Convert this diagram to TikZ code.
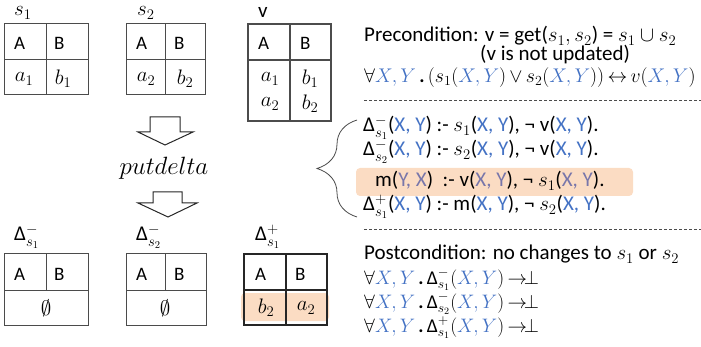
\RequirePackage{fix-cm}
\documentclass[tikz,border=0pt]{standalone}
\usepackage[no-math]{fontspec}
\setmainfont{Carlito}
\usepackage{amsmath,amssymb}
\usetikzlibrary{decorations.pathreplacing}
\definecolor{xyblue}{RGB}{68,114,196}
\definecolor{xymute}{RGB}{120,118,170}
\definecolor{hlorange}{RGB}{251,220,195}
\definecolor{tabgray}{RGB}{75,75,75}
\newcommand{\xy}[1]{\textcolor{xyblue}{#1}}
\newcommand{\xm}[1]{\textcolor{xymute}{#1}}

\tikzset{
  txt/.style={inner sep=0pt, anchor=base west, font=\fontsize{21}{25}\selectfont},
  cell/.style={inner sep=0pt, anchor=base west, font=\fontsize{19}{22}\selectfont},
  val/.style={inner sep=0pt, font=\fontsize{21}{25}\selectfont},
  tabthin/.style={draw=tabgray, line width=1pt},
  tabthick/.style={draw=black!85, line width=1.6pt},
  blockarrow/.style={draw=black!85, line width=1pt, line join=miter, fill=white},
  sep/.style={dashed, black!70, line width=0.6pt, dash pattern=on 3pt off 2pt}
}

\begin{document}
\begin{tikzpicture}[x=1pt, y=-1pt]
    \useasboundingbox (0,0) rectangle (701,347);

    % Source tables (top row)
    \node[txt] (ls1) at (14,16) {$s_1$};
    \node[txt] (ls2) at (137,16) {$s_2$};
    \node[txt] (lv) at (258,18) {v};
    \draw[tabthin] (4,24) rectangle (88,95) (4,60) -- (88,60) (46,24) -- (46,95);
    \draw[tabthin] (126,24) rectangle (205,95) (126,60) -- (205,60) (165,24) -- (165,95);
    \draw[tabthick, black!70] (248,24) rectangle (331,121) (248,60) -- (331,60) (290,24) -- (290,121);
    \node[cell] (s1A) at (14,50) {A};
    \node[cell] (s1B) at (54,50) {B};
    \node[val] (s1a) at (24,79) {$a_1$};
    \node[val] (s1b) at (63,79) {$b_1$};
    \node[cell] (s2A) at (136,50) {A};
    \node[cell] (s2B) at (174,50) {B};
    \node[val] (s2a) at (146,79) {$a_2$};
    \node[val] (s2b) at (185,79) {$b_2$};
    \node[cell] (vA) at (258,50) {A};
    \node[cell] (vB) at (300,50) {B};
    \node[val] (va1) at (270,79) {$a_1$};
    \node[val] (vb1) at (310,79) {$b_1$};
    \node[val] (va2) at (270,104) {$a_2$};
    \node[val] (vb2) at (310,104) {$b_2$};

    % putdelta step
    \draw[blockarrow] (150,117) -- (180,117) -- (180,132) -- (193,132) -- (165,145)
        -- (138,132) -- (150,132) -- cycle;
    \node[val, font=\fontsize{25}{28}\selectfont] (pd) at (164,168) {$putdelta$};
    \draw[blockarrow] (153,192) -- (182,192) -- (182,203) -- (197,203) -- (168,217)
        -- (138,203) -- (153,203) -- cycle;

    % Delta tables (bottom row)
    \node[txt] (ld1) at (14,241) {Δ$^{-}_{s_1}$};
    \node[txt] (ld2) at (136,241) {Δ$^{-}_{s_2}$};
    \node[txt] (ld3) at (255,241) {Δ$^{+}_{s_1}$};
    \fill[hlorange, rounded corners=4pt] (241,293) rectangle (329,321);
    \draw[tabthin] (4,254) rectangle (88,325) (4,290) -- (88,290) (46,254) -- (46,290);
    \draw[tabthin] (126,254) rectangle (206,325) (126,290) -- (206,290) (165,254) -- (165,290);
    \draw[tabthick] (244,254) rectangle (327,325) (244,290) -- (327,290) (286,254) -- (286,325);
    \node[cell] (d1A) at (14,280) {A};
    \node[cell] (d1B) at (54,280) {B};
    \node[val] (d1e) at (46,308) {$\emptyset$};
    \node[cell] (d2A) at (136,280) {A};
    \node[cell] (d2B) at (174,280) {B};
    \node[val] (d2e) at (165,308) {$\emptyset$};
    \node[cell] (d3A) at (255,280) {A};
    \node[cell] (d3B) at (295,280) {B};
    \node[val] (d3b) at (266,308) {$b_2$};
    \node[val] (d3a) at (306,308) {$a_2$};

    % Precondition
    \node[txt] (pre) at (364,42) {Precondition: v = get($s_1, s_2$) = $s_1 \cup s_2$};
    \node[txt] (upd) at (480,61) {(v is not updated)};
    \node[txt, font=\fontsize{19.8}{23}\selectfont] (prefml) at (364,83)
        {$\forall \xy{X,Y}\,\textbf{.}\,(s_1(\xy{X,Y})\,{\lor}\,s_2(\xy{X,Y}))\,{\leftrightarrow}\,v(\xy{X,Y})$};
    \draw[sep] (364,100) -- (701,100);

    % Rules of putdelta
    \fill[hlorange, rounded corners=4pt] (356,168) rectangle (633,196);
    \node[txt] (r1) at (363,132) {Δ$^{-}_{s_1}$(\xy{X, Y}) :- $s_1$(\xy{X, Y}), ¬ v(\xy{X, Y}).};
    \node[txt] (r2) at (363,156) {Δ$^{-}_{s_2}$(\xy{X, Y}) :- $s_2$(\xy{X, Y}), ¬ v(\xy{X, Y}).};
    \node[txt] (r3) at (375,187) {m(\xm{Y, X})\ \ :- v(\xm{X, Y}), ¬ $s_1$(\xm{X, Y}).};
    \node[txt] (r4) at (363,211) {Δ$^{+}_{s_1}$(\xy{X, Y}) :- m(\xy{X, Y}), ¬ $s_2$(\xy{X, Y}).};
    \draw[decorate, decoration={brace, amplitude=40pt}, black!70, line width=0.8pt]
        (357,217) -- (357,120);
    \draw[sep] (364,229) -- (701,229);

    % Postcondition
    \node[txt] (post) at (364,260) {Postcondition: no changes to $s_1$ or $s_2$};
    \node[txt, font=\fontsize{19.5}{24}\selectfont] (q1) at (364,284) {$\forall \xy{X,Y}\,\textbf{.}\,$Δ$^{-}_{s_1}$$(\xy{X,Y})\,{\rightarrow}\!\bot$};
    \node[txt, font=\fontsize{19.5}{24}\selectfont] (q2) at (364,308) {$\forall \xy{X,Y}\,\textbf{.}\,$Δ$^{-}_{s_2}$$(\xy{X,Y})\,{\rightarrow}\!\bot$};
    \node[txt, font=\fontsize{19.5}{24}\selectfont] (q3) at (364,332) {$\forall \xy{X,Y}\,\textbf{.}\,$Δ$^{+}_{s_1}$$(\xy{X,Y})\,{\rightarrow}\!\bot$};
\end{tikzpicture}
\end{document}
